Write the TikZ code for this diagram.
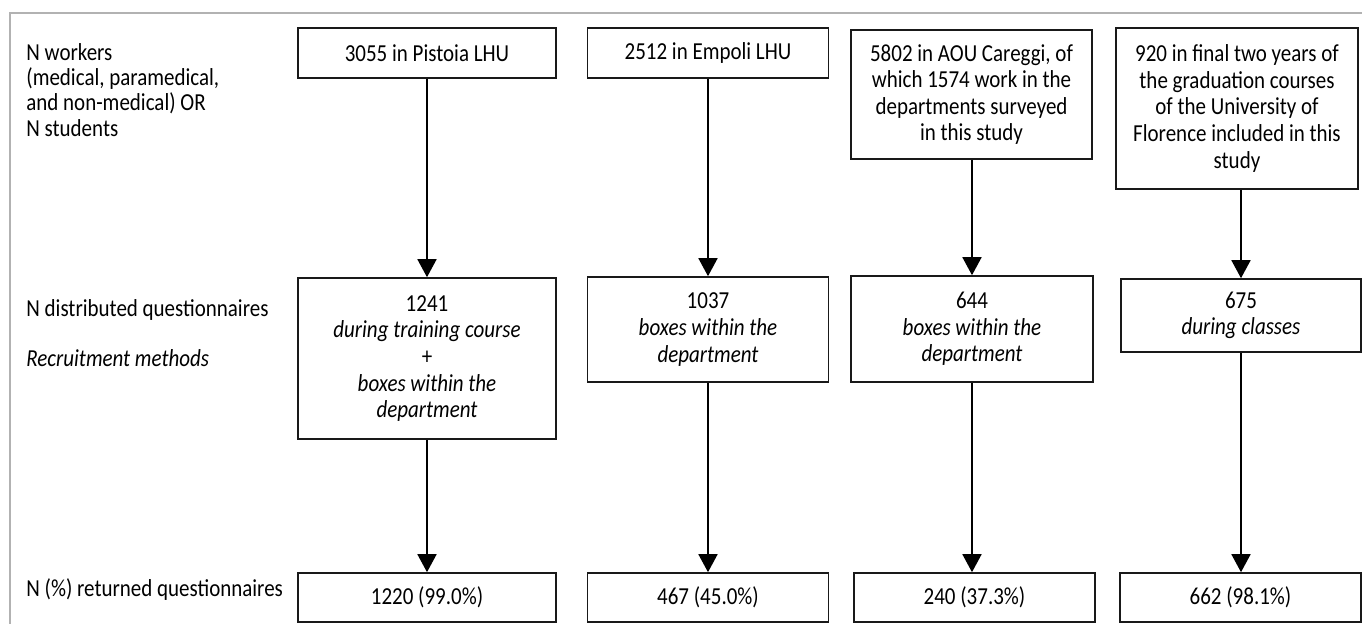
\documentclass[tikz,border=0pt]{standalone}
\usepackage{fontspec}
\setmainfont{Carlito}[FakeStretch=0.86]
\usetikzlibrary{arrows.meta}
\begin{document}
\begin{tikzpicture}[x=0.5pt,y=-0.5pt,
  box/.style={draw=black!90, line width=0.8pt, align=center, inner sep=0pt,
    font=\fontsize{12.2}{13.3}\selectfont},
  lbl/.style={anchor=west, align=left, inner sep=0pt,
    font=\fontsize{12.2}{12.6}\selectfont},
  flow/.style={draw=black, line width=0.85pt, -{Triangle[width=9.5pt,length=9pt]}},
  frame/.style={draw=gray!60, line width=1pt},
]
\useasboundingbox (0,0) rectangle (1362,624);
\draw[frame] (1362,13) -- (10,13) -- (10,624);

% left labels
\node[lbl] (l1) at (26,90) {N workers\\(medical, paramedical,\\and non-medical) OR\\N students};
\node[lbl] (l2) at (26,310) {N distributed questionnaires};
\node[lbl] (l3) at (26,358) {\itshape Recruitment methods};
\node[lbl] (l4) at (26,590) {N (\%) returned questionnaires};

% top row
\node[box, minimum width=129pt, minimum height=25pt] (t1) at (427,53) {3055 in Pistoia LHU};
\node[box, minimum width=120.5pt, minimum height=25pt] (t2) at (708,53) {2512 in Empoli LHU};
\node[box, minimum width=120.5pt, minimum height=64.5pt] (t3) at (971.5,94.5)
  {5802 in AOU Careggi, of\\which 1574 work in the\\departments surveyed\\in this study};
\node[box, minimum width=121pt, minimum height=80.5pt] (t4) at (1237,108.5)
  {920 in final two years of\\the graduation courses\\of the University of\\Florence included in this\\study};

% middle row
\node[box, minimum width=129pt, minimum height=80.5pt] (m1) at (427,358.5)
  {1241\\\textit{during training course}\\+\\\textit{boxes within the}\\\textit{department}};
\node[box, minimum width=120.5pt, minimum height=52.5pt] (m2) at (708,329.5)
  {1037\\\textit{boxes within the}\\\textit{department}};
\node[box, minimum width=121pt, minimum height=53pt] (m3) at (972,329)
  {644\\\textit{boxes within the}\\\textit{department}};
\node[box, minimum width=120pt, minimum height=36.5pt] (m4) at (1241,315.5)
  {675\\\textit{during classes}};

% bottom row
\node[box, minimum width=129pt, minimum height=24.5pt] (b1) at (427,597.5) {1220 (99.0\%)};
\node[box, minimum width=120.5pt, minimum height=24.5pt] (b2) at (708,597.5) {467 (45.0\%)};
\node[box, minimum width=120.5pt, minimum height=24.5pt] (b3) at (974.5,597.5) {240 (37.3\%)};
\node[box, minimum width=120.5pt, minimum height=24.5pt] (b4) at (1240.5,597.5) {662 (98.1\%)};

% connectors
\draw[flow] (t1.south) -- (t1.south |- m1.north);
\draw[flow] (t2.south) -- (t2.south |- m2.north);
\draw[flow] (m3.north |- t3.south) -- (m3.north);
\draw[flow] (m4.north |- t4.south) -- (m4.north);
\draw[flow] (m1.south) -- (m1.south |- b1.north);
\draw[flow] (m2.south) -- (m2.south |- b2.north);
\draw[flow] (m3.south) -- (m3.south |- b3.north);
\draw[flow] (m4.south) -- (m4.south |- b4.north);
\end{tikzpicture}
\end{document}
